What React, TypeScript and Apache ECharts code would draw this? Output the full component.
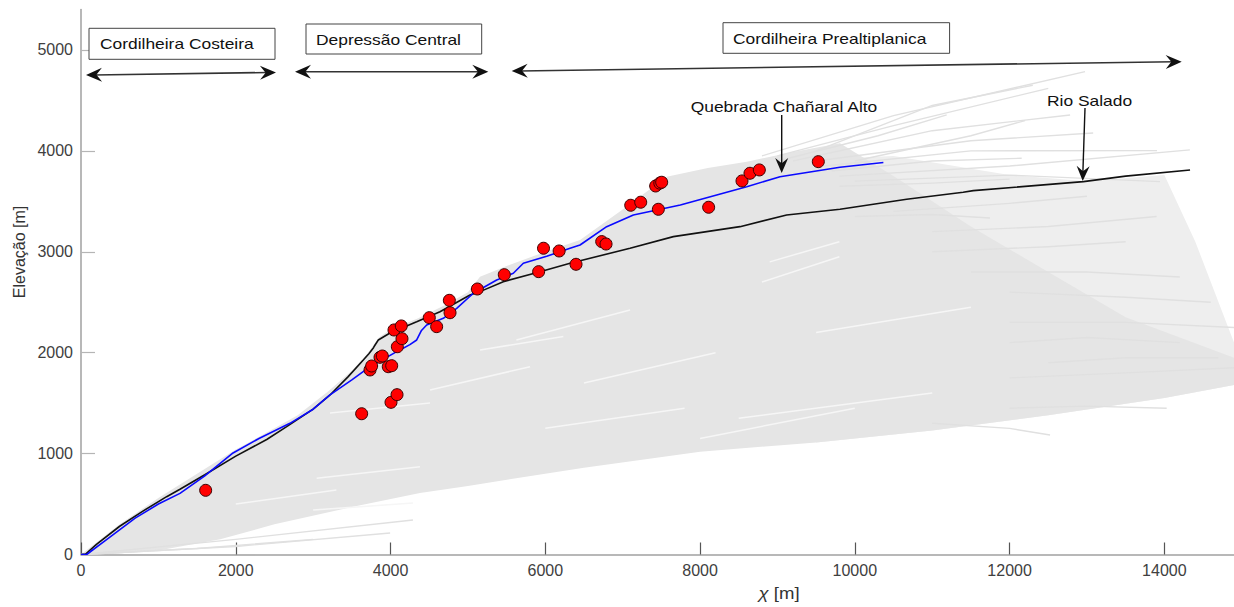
import React, { useEffect, useRef } from "react";
import * as echarts from "echarts";

// ---------- data ----------
const xTickValues = [0, 2000, 4000, 6000, 8000, 10000, 12000, 14000];
const yTickValues = [0, 1000, 2000, 3000, 4000, 5000];

// trunk profile: Rio Salado (black)
const rioSalado: [number, number][] = [
  [0, 0], [60, 5], [200, 100], [500, 280], [800, 430], [1107, 573], [1279, 646],
  [1600, 790], [2000, 975], [2400, 1140], [2658, 1267], [3000, 1440], [3218, 1581],
  [3450, 1760], [3648, 1928], [3720, 1990], [3780, 2050], [3800, 2076], [3842, 2126],
  [3993, 2195], [4338, 2307], [4639, 2406], [5027, 2572], [5156, 2605], [5457, 2704],
  [5932, 2803], [6320, 2886], [7095, 3035], [7655, 3150], [8516, 3249], [9119, 3365],
  [9808, 3421], [10670, 3520], [11400, 3590], [11531, 3606], [12953, 3695],
  [13500, 3750], [14332, 3811],
];

// tributary profile: Quebrada Chañaral Alto (blue)
const quebradaChanaral: [number, number][] = [
  [0, 0], [73, 0], [300, 130], [700, 360], [1000, 500], [1279, 606], [1600, 780],
  [1965, 1006], [2300, 1150], [2700, 1300], [3000, 1440], [3218, 1581], [3500, 1730],
  [3735, 1861], [4080, 2010], [4250, 2080], [4338, 2126], [4400, 2220], [4467, 2274],
  [4682, 2341], [4855, 2440], [5070, 2589], [5372, 2721], [5587, 2787], [5716, 2886],
  [6018, 2955], [6320, 3035], [6449, 3067], [6793, 3249], [7138, 3365], [7745, 3464],
  [8603, 3645], [9033, 3744], [9808, 3837], [10369, 3885],
];

// knickpoints (red dots)
const knickpoints: [number, number][] = [
  [1611, 636], [3627, 1395], [4006, 1508], [4084, 1584], [3735, 1829], [3756, 1868],
  [3864, 1954], [3894, 1967], [3971, 1861], [4015, 1871], [4088, 2059], [4148, 2139],
  [4045, 2225], [4139, 2265], [4501, 2347], [4596, 2258], [4769, 2396], [4760, 2519],
  [5122, 2631], [5470, 2773], [5914, 2803], [6397, 2876], [5977, 3035], [6179, 3008],
  [6729, 3101], [6785, 3077], [7104, 3461], [7233, 3491], [7461, 3421], [7426, 3652],
  [7480, 3680], [7504, 3689], [8111, 3441], [8542, 3702], [8645, 3778], [8766, 3811],
  [9528, 3893],
];

// envelope of the dense bundle of all other profiles (grey)
const bundleUpper: [number, number][] = [
  [0, 0], [500, 300], [1000, 560], [1500, 800], [2000, 1040], [2500, 1250], [2800, 1380],
  [3200, 1620], [3500, 1820], [3700, 1990], [3850, 2150], [4000, 2230], [4350, 2340],
  [4700, 2470], [5000, 2600], [5156, 2753], [5500, 2860], [6000, 3000], [6449, 3117],
  [7000, 3420], [7569, 3744], [8100, 3830], [8603, 3893], [9200, 3990], [9808, 4075],
  [10500, 3750], [11500, 3250], [12500, 2800], [13500, 2350], [14900, 1950],
];
const bundleLower: [number, number][] = [
  [14900, 1680], [14000, 1550], [12500, 1380], [11000, 1230], [9500, 1110], [8000, 1019],
  [6500, 860], [5000, 680], [4380, 610], [3500, 470], [2500, 300], [1800, 150],
  [1000, 40], [400, 5], [0, 0],
];
// thinner outer part of the bundle, right of the trunk's bend
const fringeOutline: [number, number][] = [
  [9000, 3900], [10500, 3950], [12000, 3760], [13000, 3700], [14000, 3760], [14400, 3100],
  [14900, 2100], [14900, 1680], [14000, 1550], [12500, 1380], [11000, 1230], [9500, 1110],
];

// individual grey profiles that stick out of the bundle
const greyProfiles: [number, number][][] = [
  [[8800, 3950], [10500, 4350], [12975, 4785]],
  [[9000, 3950], [10500, 4250], [12500, 4620]],
  [[9000, 3900], [10300, 4150], [11187, 4356]],
  [[9200, 3900], [11000, 4200], [12782, 4356]],
  [[9500, 3900], [11500, 4100], [13080, 4177]],
  [[9600, 3850], [11500, 4000], [13905, 4002]],
  [[9700, 3800], [11000, 3900], [12156, 3927]],
  [[9800, 3750], [12000, 3850], [14330, 4010]],
  [[10000, 3700], [12000, 3760], [13944, 3695]],
  [[9800, 3650], [11000, 3680], [12000, 3720]],
  [[10000, 3900], [11500, 4150], [12200, 4300]],
  [[9500, 4000], [11000, 4450], [12300, 4650]],
  [[10000, 3350], [11000, 3370], [11747, 3335]],
  [[10500, 3400], [12000, 3480], [13000, 3550]],
  [[11000, 3200], [12500, 3250], [13900, 3350]],
  [[11000, 3000], [12500, 3050], [13500, 3100]],
  [[11500, 2800], [13000, 2800], [14200, 2750]],
  [[12000, 2600], [13500, 2550], [14600, 2500]],
  [[12000, 2300], [13500, 2300], [14900, 2250]],
  [[12000, 2100], [13000, 2150], [14200, 2100]],
  [[12500, 1900], [13500, 1950], [14700, 1950]],
  [[12000, 1750], [13500, 1800], [14900, 1850]],
  [[11000, 1300], [12000, 1250], [12523, 1184]],
  [[12000, 1450], [13000, 1470], [14030, 1449]],
  [[0, 0], [2000, 80], [3995, 213]],
  [[0, 0], [2000, 150], [4290, 342]],
  [[0, 0], [1500, 60], [3000, 150]],
];

// thin gaps between the grey profiles inside the bundle
const bundleGaps: [number, number][][] = [
  [[5627, 2126], [7095, 2423]],
  [[5156, 2027], [6233, 2160]],
  [[4510, 1630], [5803, 1861]],
  [[3218, 1402], [4510, 1502]],
  [[8800, 2700], [9800, 2950]],
  [[8900, 2900], [9800, 3100]],
  [[8000, 1150], [10000, 1450]],
  [[8500, 1350], [11000, 1600]],
  [[3046, 755], [4380, 870]],
  [[3000, 440], [4290, 510]],
  [[6500, 1700], [8200, 2000]],
  [[6000, 1250], [7800, 1450]],
  [[9500, 2200], [11500, 2450]],
  [[2000, 500], [3300, 640]],
];

// ---------- helpers for annotation graphics ----------
function arrowHead(tx: number, ty: number, dx: number, dy: number, len = 16, half = 7) {
  const n = Math.hypot(dx, dy) || 1;
  const ux = dx / n;
  const uy = dy / n;
  const px = -uy;
  const py = ux;
  const bx = tx - ux * len;
  const by = ty - uy * len;
  const nx = tx - ux * len * 0.65;
  const ny = ty - uy * len * 0.65;
  return {
    type: "polygon",
    shape: {
      points: [
        [tx, ty],
        [bx + px * half, by + py * half],
        [nx, ny],
        [bx - px * half, by - py * half],
      ],
    },
    style: { fill: "#111" },
    z: 50,
  };
}

function doubleArrow(x1: number, y1: number, x2: number, y2: number) {
  return [
    { type: "line", shape: { x1: x1 + 8, y1, x2: x2 - 8, y2 }, style: { stroke: "#333", lineWidth: 1.6 }, z: 49 },
    arrowHead(x1, y1, x1 - x2, y1 - y2),
    arrowHead(x2, y2, x2 - x1, y2 - y1),
  ];
}

const FONT = "Liberation Sans";

function labelBox(x: number, y: number, w: number, h: number, tx: number, text: string) {
  return [
    { type: "rect", shape: { x, y, width: w, height: h }, style: { fill: "#fff", stroke: "#444", lineWidth: 1 }, z: 48 },
    {
      type: "text",
      x: tx,
      y: y + h / 2,
      scaleX: 1.16,
      style: { text, fontSize: 15, fontFamily: FONT, fill: "#111", textAlign: "left", textVerticalAlign: "middle" },
      z: 51,
    },
  ];
}

function polygonSeries(points: [number, number][], fill: string, z: number) {
  return {
    type: "custom",
    silent: true,
    clip: true,
    z,
    data: [[points[0][0], points[0][1]]],
    renderItem: (_params: any, api: any) => ({
      type: "polygon",
      shape: { points: points.map((p) => api.coord(p)) },
      style: { fill },
    }),
  };
}

export default function App() {
  const ref = useRef<HTMLDivElement>(null);

  useEffect(() => {
    if (!ref.current) return;
    const chart = echarts.init(ref.current, undefined, { renderer: "svg" });

    const graphic: any[] = [
      ...labelBox(89, 28.3, 186, 31, 100, "Cordilheira Costeira"),
      ...labelBox(306, 24, 175.7, 30, 316, "Depressão Central"),
      ...labelBox(723, 22.7, 226.6, 30.6, 733, "Cordilheira Prealtiplanica"),
      ...doubleArrow(86, 75, 276, 72.5),
      ...doubleArrow(295, 71.7, 488.3, 71.7),
      ...doubleArrow(511.7, 71, 1181.7, 61.7),
      {
        type: "text", x: 690.7, y: 106, scaleX: 1.16,
        style: { text: "Quebrada Chañaral Alto", fontSize: 15, fontFamily: FONT, fill: "#111", textAlign: "left", textVerticalAlign: "middle" },
        z: 51,
      },
      { type: "line", shape: { x1: 781.7, y1: 115, x2: 781.7, y2: 164 }, style: { stroke: "#111", lineWidth: 1.4 }, z: 49 },
      arrowHead(781.7, 173, 0, 1, 15, 6.5),
      {
        type: "text", x: 1047, y: 100, scaleX: 1.16,
        style: { text: "Rio Salado", fontSize: 15, fontFamily: FONT, fill: "#111", textAlign: "left", textVerticalAlign: "middle" },
        z: 51,
      },
      { type: "line", shape: { x1: 1085, y1: 108, x2: 1082.9, y2: 172 }, style: { stroke: "#111", lineWidth: 1.4 }, z: 49 },
      arrowHead(1082.7, 181, -0.03, 1, 15, 6.5),
      {
        type: "text", x: 19, y: 252, rotation: Math.PI / 2,
        style: { text: "Elevação [m]", fontSize: 16, fontFamily: FONT, fill: "#333", textAlign: "center", textVerticalAlign: "middle" },
        z: 51,
      },
      {
        type: "text", x: 779, y: 593, scaleX: 1.16,
        style: {
          text: "{g|χ} [m]",
          rich: { g: { fontStyle: "italic", fontSize: 16, fontFamily: FONT, fill: "#333" } },
          fontSize: 16, fontFamily: FONT, fill: "#333", textAlign: "center", textVerticalAlign: "middle",
        },
        z: 51,
      },
    ];

    const fmt = (v: number) => String(Math.round(v));

    chart.setOption({
      animation: false,
      backgroundColor: "#fff",
      grid: { left: 81, right: 0, top: 9.6, bottom: 52.5, containLabel: false },
      xAxis: {
        type: "value",
        min: 0,
        max: 14900,
        interval: 2000,
        axisLine: { show: true, lineStyle: { color: "#a0a0a0", width: 1.5 } },
        axisTick: { show: true, inside: true, length: 12, customValues: xTickValues, lineStyle: { color: "#555", width: 1.2 } },
        axisLabel: { customValues: xTickValues, formatter: fmt, margin: 8, fontSize: 16, fontFamily: FONT, color: "#404040" },
        splitLine: { show: false },
      },
      yAxis: {
        type: "value",
        min: 0,
        max: 5400,
        interval: 1000,
        axisLine: { show: true, lineStyle: { color: "#a0a0a0", width: 1.5 } },
        axisTick: { show: true, inside: true, length: 14, customValues: yTickValues, lineStyle: { color: "#b5b5b5", width: 1.2 } },
        axisLabel: { customValues: yTickValues, formatter: fmt, margin: 8, fontSize: 16, fontFamily: FONT, color: "#404040" },
        splitLine: { show: false },
      },
      graphic,
      series: [
        polygonSeries(fringeOutline, "#eeeeee", 1),
        polygonSeries([...bundleUpper, ...bundleLower], "#e5e5e5", 1),
        {
          type: "lines",
          coordinateSystem: "cartesian2d",
          polyline: true,
          silent: true,
          z: 2,
          lineStyle: { color: "#f6f6f6", width: 1.5, opacity: 1 },
          data: bundleGaps.map((coords) => ({ coords })),
        },
        {
          type: "lines",
          coordinateSystem: "cartesian2d",
          polyline: true,
          silent: true,
          z: 2,
          lineStyle: { color: "#e0e0e0", width: 1.4, opacity: 1 },
          data: greyProfiles.map((coords) => ({ coords })),
        },
        {
          type: "line",
          data: quebradaChanaral,
          showSymbol: false,
          symbol: "none",
          z: 4,
          lineStyle: { color: "#0a0aff", width: 1.6 },
        },
        {
          type: "line",
          data: rioSalado,
          showSymbol: false,
          symbol: "none",
          z: 3,
          lineStyle: { color: "#111", width: 1.6 },
        },
        {
          type: "scatter",
          data: knickpoints,
          symbol: "circle",
          symbolSize: 12,
          z: 6,
          itemStyle: { color: "#ff0000", borderColor: "#3a0000", borderWidth: 1, opacity: 1 },
        },
      ],
    });

    return () => chart.dispose();
  }, []);

  return (
    <div
      ref={ref}
      style={{ position: "fixed", left: 0, top: 0, width: 1234, height: 607, background: "#fff" }}
    />
  );
}
